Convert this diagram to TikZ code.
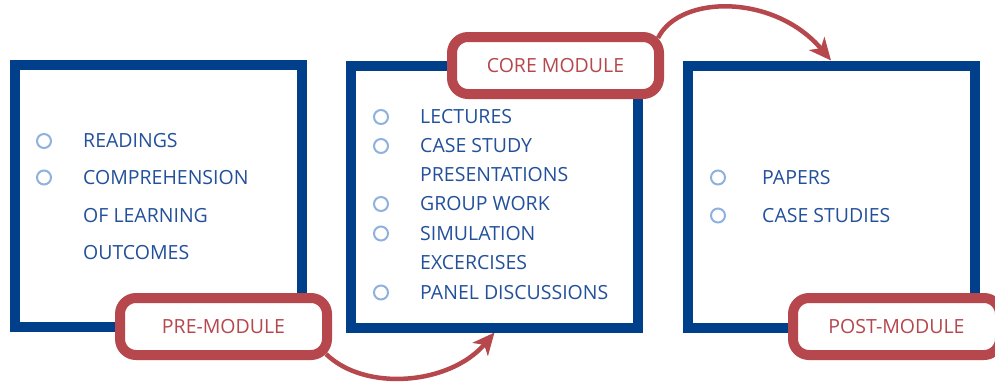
\documentclass[tikz,border=0pt]{standalone}
\usepackage{fontspec}
\setmainfont{Open Sans}
\usetikzlibrary{arrows.meta}
\usetikzlibrary{backgrounds}
\usetikzlibrary{calc}
\definecolor{modblue}{HTML}{00408A}
\definecolor{modtext}{HTML}{23509A}
\definecolor{modlight}{HTML}{8FB1E0}
\definecolor{modred}{HTML}{B5474D}
\newcommand{\boxline}{10pt}
\newcommand{\tagline}{10pt}
\newcommand{\boxsizex}{287pt}
\newcommand{\boxsizey}{262pt}
\newcommand{\tagsizex}{207pt}
\newcommand{\tagsizey}{57pt}
\newcommand{\modfont}{\fontsize{19.5}{23}\selectfont}
\tikzset{
  modbox/.style={draw=modblue, line width=\boxline, minimum width=\boxsizex,
    minimum height=\boxsizey, inner sep=0pt},
  modtag/.style={draw=modred, fill=white, line width=\tagline, rounded corners=16pt,
    minimum width=\tagsizex, minimum height=\tagsizey, text=modred, font=\modfont},
  itemdot/.style={circle, draw=modlight, line width=2pt, minimum size=14pt, inner sep=0pt},
  itemtext/.style={anchor=west, text=modtext, font=\modfont, inner sep=0pt},
  flow/.style={draw=modred, line width=4.5pt, -{Stealth[length=22pt,width=20pt,inset=6pt]}}
}

\begin{document}
\begin{tikzpicture}[x=1pt,y=-1pt]
    \useasboundingbox (0,0) rectangle (995,381);
    % pre part
    \node[modbox] (prebox) at (158.5,196) {};
    \node[itemdot] (pred1) at (44,141) {};
    \node[itemdot] (pred2) at (44,177.5) {};
    \node[itemtext] (pret1) at (83,141) {READINGS};
    \node[itemtext] (pret2) at (83,178) {COMPREHENSION};
    \node[itemtext] (pret3) at (83,216) {OF LEARNING};
    \node[itemtext] (pret4) at (83,252.5) {OUTCOMES};
    % core part
    \node[modbox] (corebox) at (494.5,196.5) {};
    \node[itemdot] (cored1) at (381,117) {};
    \node[itemdot] (cored2) at (381,146) {};
    \node[itemdot] (cored3) at (381,204) {};
    \node[itemdot] (cored4) at (381,233.5) {};
    \node[itemdot] (cored5) at (381,292.5) {};
    \node[itemtext] (coret1) at (420,117) {LECTURES};
    \node[itemtext] (coret2) at (420,146) {CASE STUDY};
    \node[itemtext] (coret3) at (420,174.5) {PRESENTATIONS};
    \node[itemtext] (coret4) at (420,204) {GROUP WORK};
    \node[itemtext] (coret5) at (420,233.5) {SIMULATION};
    \node[itemtext] (coret6) at (420,262.5) {EXCERCISES};
    \node[itemtext] (coret7) at (420,292.5) {PANEL DISCUSSIONS};
    % post part
    \node[modbox] (postbox) at (831,196.5) {};
    \node[itemdot] (postd1) at (718,177.5) {};
    \node[itemdot] (postd2) at (718,215.5) {};
    \node[itemtext] (postt1) at (762,178) {PAPERS};
    \node[itemtext] (postt2) at (762,216) {CASE STUDIES};
    % tags
    \node[modtag] (pretag) at (223.5,326.5) {PRE-MODULE};
    \node[modtag] (coretag) at (555.5,65.5) {CORE MODULE};
    \node[modtag] (posttag) at (896.5,326.5) {POST-MODULE};
    \begin{scope}[on background layer]
      % arrows
      \draw[flow] ($(pretag.south east)+(-6,-6)$) .. controls (365,392) and (450,385) .. (corebox.south);
      \draw[flow] ($(coretag.north east)+(-6,6)$) .. controls (680,-6) and (775,-6) .. (postbox.north);
    \end{scope}
  \end{tikzpicture}
\end{document}
